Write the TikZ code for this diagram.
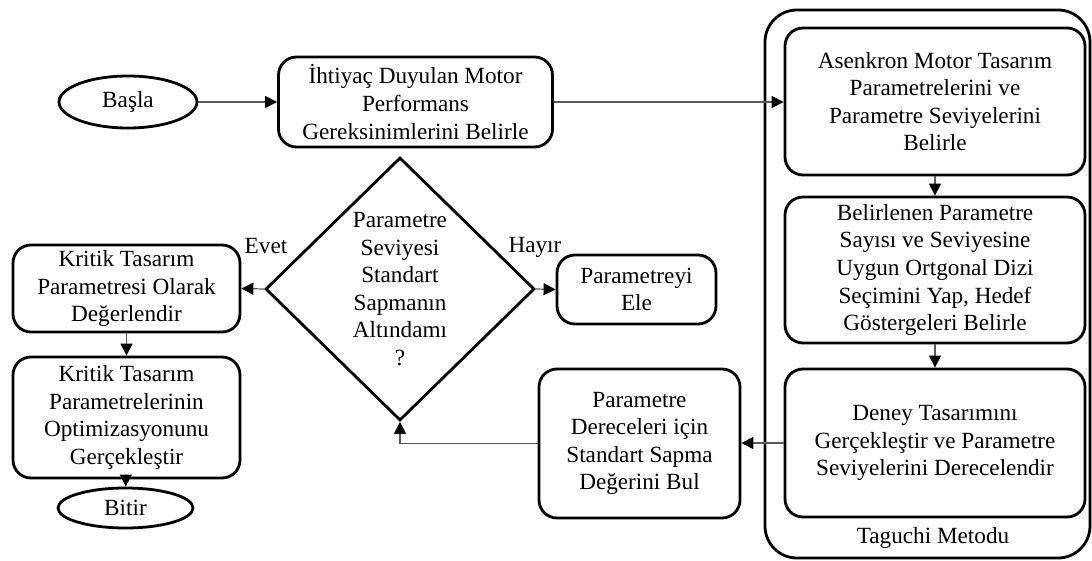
\documentclass[tikz,border=0pt]{standalone}
\usepackage{fontspec}
\setmainfont{Liberation Serif}
\usepackage{xcolor}
\usetikzlibrary{arrows.meta,shapes.geometric}
\definecolor{flowgray}{HTML}{5A5A5A}

\begin{document}
\begin{tikzpicture}[x=0.5pt, y=-0.5pt,
    every node/.style={font=\fontsize{11.6pt}{13.8pt}\selectfont, align=center},
    process/.style={draw, line width=1.4pt, rounded corners=9pt, inner sep=2pt},
    terminal/.style={draw, ellipse, line width=1.4pt, inner sep=0pt},
    decision/.style={draw, diamond, line width=1.4pt, inner sep=0pt, shape aspect=1},
    flow/.style={draw=flowgray, line width=0.6pt, -{Triangle[length=6pt,width=6pt,black]}}]
    \useasboundingbox (0,0) rectangle (1092,561);

    % Taguchi block
    \draw[line width=1.4pt, rounded corners=16pt] (765,10) rectangle (1090,558);
    \node (taglabel) at (933,538) {Taguchi Metodu};

    % Start and requirements
    \node[terminal, minimum width=69pt, minimum height=26pt] (basla) at (128,102) {Başla};
    \node[process, minimum width=137pt, minimum height=45pt] (ihtiyac) at (415.5,102)
        {İhtiyaç Duyulan Motor\\Performans\\Gereksinimlerini Belirle};

    % Taguchi steps
    \node[process, minimum width=150pt, minimum height=73.5pt] (asenkron) at (935,101.5)
        {Asenkron Motor Tasarım\\Parametrelerini ve\\Parametre Seviyelerini\\Belirle};
    \node[process, minimum width=150pt, minimum height=73pt] (belirlenen) at (935,270)
        {Belirlenen Parametre\\Sayısı ve Seviyesine\\Uygun Ortgonal Dizi\\Seçimini Yap, Hedef\\Göstergeleri Belirle};
    \node[process, minimum width=150pt, minimum height=74pt] (deney) at (935,443)
        {Deney Tasarımını\\Gerçekleştir ve Parametre\\Seviyelerini Derecelendir};

    % Standard deviation and decision
    \node[process, minimum width=100.5pt, minimum height=74.5pt] (dereceleri) at (639.5,443.5)
        {Parametre\\Dereceleri için\\Standart Sapma\\Değerini Bul};
    \node[decision, minimum width=134.5pt, minimum height=131.5pt] (karar) at (400,289)
        {Parametre\\Seviyesi\\Standart\\Sapmanın\\Altındamı\\?};
    \node[process, minimum width=79.5pt, minimum height=34.5pt] (ele) at (636.5,289.5)
        {Parametreyi\\Ele};
    \node (evet) at (266,246) {Evet};
    \node (hayir) at (535,247) {Hayır};

    % Critical parameters and end
    \node[process, minimum width=113.5pt, minimum height=43.5pt] (kritik1) at (126.5,288.5)
        {Kritik Tasarım\\Parametresi Olarak\\Değerlendir};
    \node[process, minimum width=113.5pt, minimum height=60.5pt] (kritik2) at (126.5,417.5)
        {Kritik Tasarım\\Parametrelerinin\\Optimizasyonunu\\Gerçekleştir};
    \node[terminal, minimum width=67.5pt, minimum height=20pt] (bitir) at (125.5,508) {Bitir};

    % Connectors
    \draw[flow] (basla) -- (ihtiyac);
    \draw[flow] (ihtiyac.east) -- (ihtiyac.east -| asenkron.west);
    \draw[flow] (asenkron) -- (belirlenen);
    \draw[flow] (belirlenen) -- (deney);
    \draw[flow] (deney.west) -- (deney.west -| dereceleri.east);
    \draw[flow] (dereceleri.west) -| (karar.south);
    \draw[flow] (karar.west) -- (kritik1.east);
    \draw[flow] (karar.east) -- (ele.west);
    \draw[flow] (kritik1) -- (kritik2);
    \draw[flow] (kritik2) -- (bitir);
\end{tikzpicture}
\end{document}
